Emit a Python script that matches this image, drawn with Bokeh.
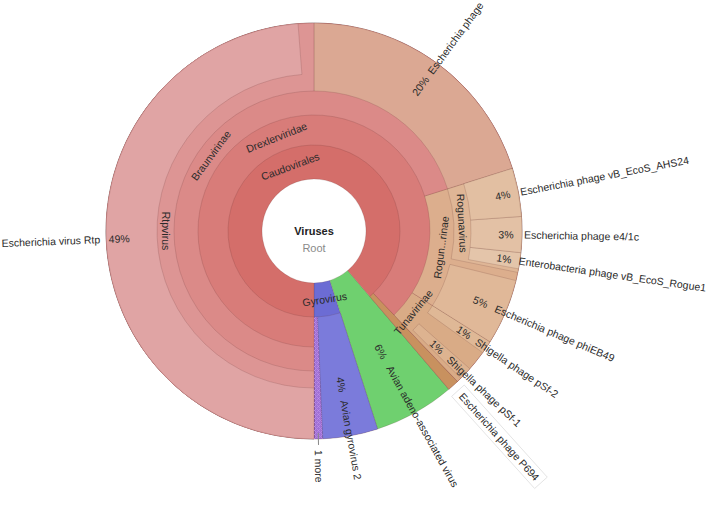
import math
from bokeh.plotting import figure
from bokeh.models import ColumnDataSource, Range1d
from bokeh.core.properties import value
from bokeh.embed import file_html
from bokeh.resources import INLINE

# ---------------- data ----------------
# segments counter-clockwise from 6 o'clock; path = lineage below "Viruses"
seg_path = [
    "Gyrovirus|1 more",
    "Gyrovirus|Avian gyrovirus 2",
    "Avian adeno-associated virus",
    "Caudovirales|Escherichia phage P694",
    "Caudovirales|Drexlerviridae|Tunavirinae",
    "Caudovirales|Drexlerviridae|Tunavirinae|Shigella phage pSf-1",
    "Caudovirales|Drexlerviridae|Tunavirinae",
    "Caudovirales|Drexlerviridae|Tunavirinae|Shigella phage pSf-2",
    "Caudovirales|Drexlerviridae|Rogunavirinae|Escherichia phage phiEB49",
    "Caudovirales|Drexlerviridae|Rogunavirinae",
    "Caudovirales|Drexlerviridae|Rogunavirinae|Rogunavirus",
    "Caudovirales|Drexlerviridae|Rogunavirinae|Rogunavirus|Enterobacteria phage vB_EcoS_Rogue1",
    "Caudovirales|Drexlerviridae|Rogunavirinae|Rogunavirus|Escherichia phage e4/1c",
    "Caudovirales|Drexlerviridae|Rogunavirinae|Rogunavirus|Escherichia phage vB_EcoS_AHS24",
    "Caudovirales|Drexlerviridae|Braunvirinae|Escherichia phage",
    "Caudovirales|Drexlerviridae|Braunvirinae|Rtpvirus",
    "Caudovirales|Drexlerviridae|Braunvirinae|Rtpvirus|Escherichia virus Rtp",
]
seg_value = [0.67, 4.28, 6.28, 0.89, 0.36, 1.0, 1.58, 1.0, 5.11, 0.64, 0.28,
             1.25, 2.78, 3.75, 20.14, 1.22, 48.78]

root_name = "Viruses"
root_rank = "Root"
short_names = {"Rogunavirinae": "Rogun...rinae"}

# ---------------- style ----------------
ring_r = [52, 86, 116, 140, 157, 208]
colors = {
    "Gyrovirus": "#6c6cd4",
    "1 more": "#a070d6",
    "Avian gyrovirus 2": "#7b7bdb",
    "Avian adeno-associated virus": "#6fd06f",
    "Caudovirales": "#d46e6a",
    "Escherichia phage P694": "#c8915f",
    "Drexlerviridae": "#d87c79",
    "Tunavirinae": "#d9ab86",
    "Shigella phage pSf-1": "#ddb390",
    "Shigella phage pSf-2": "#dfb896",
    "Rogunavirinae": "#dcae8d",
    "Escherichia phage phiEB49": "#e0b898",
    "Rogunavirus": "#dfb696",
    "Enterobacteria phage vB_EcoS_Rogue1": "#e4c5aa",
    "Escherichia phage e4/1c": "#e3c1a5",
    "Escherichia phage vB_EcoS_AHS24": "#e2bfa2",
    "Braunvirinae": "#db8a88",
    "Escherichia phage": "#dba893",
    "Rtpvirus": "#dd9594",
    "Escherichia virus Rtp": "#e0a4a4",
}
# (percent radius, name radius) of leaf labels
leaf_lab_r = {
    "1 more": (None, 219),
    "Avian gyrovirus 2": (156, 172),
    "Avian adeno-associated virus": (138, 155),
    "Escherichia phage P694": (None, 220),
    "Shigella phage pSf-1": (169, 185),
    "Shigella phage pSf-2": (181, 196),
    "Escherichia phage phiEB49": (181, 197),
    "Enterobacteria phage vB_EcoS_Rogue1": (192, 207),
    "Escherichia phage e4/1c": (192, 210),
    "Escherichia phage vB_EcoS_AHS24": (192, 210),
    "Escherichia phage": (180, 196),
    "Escherichia virus Rtp": (195, 214),
}
FONT = value("Liberation Sans")
FS = "10.5px"
TXT = "#2a2a2a"
W, H = 709, 490

# ---------------- layout computation ----------------
total = sum(seg_value)
spans = {}      # node -> [start, end, depth]
order = []
children = {}
cum = 0.0
for path, v in zip(seg_path, seg_value):
    a0 = -90 + 360 * cum / total
    cum += v
    a1 = -90 + 360 * cum / total
    parts = path.split("|")
    for d, name in enumerate(parts, start=1):
        if name not in spans:
            spans[name] = [a0, a1, d]
            order.append(name)
        else:
            spans[name][0] = min(spans[name][0], a0)
            spans[name][1] = max(spans[name][1], a1)
        if d > 1:
            children.setdefault(parts[d - 2], set()).add(name)
node_val = {}
for path, v in zip(seg_path, seg_value):
    for name in path.split("|"):
        node_val[name] = node_val.get(name, 0) + v

p = figure(width=W, height=H, x_range=Range1d(-313.5, W - 313.5),
           y_range=Range1d(-259.5, 230.5), output_backend="svg",
           toolbar_location=None, min_border=0, x_axis_type=None, y_axis_type=None)
p.grid.visible = False
p.outline_line_color = None
p.background_fill_color = "white"

names_by_depth = sorted(order, key=lambda n: spans[n][2])
w = dict(inner=[], outer=[], start=[], end=[], color=[])
for n in names_by_depth:
    a0, a1, d = spans[n]
    w["inner"].append(ring_r[d - 1])
    w["outer"].append(ring_r[-1])
    w["start"].append(math.radians(a0))
    w["end"].append(math.radians(a1))
    w["color"].append(colors[n])
p.annular_wedge(x=0, y=0, inner_radius="inner", outer_radius="outer",
                start_angle="start", end_angle="end", direction="anticlock",
                fill_color="color", line_color="#5a3030", line_alpha=0.22,
                line_width=0.8, source=ColumnDataSource(w))

# hatched "1 more"
a0, a1, d = spans["1 more"]
p.annular_wedge(x=0, y=0, inner_radius=ring_r[d - 1], outer_radius=ring_r[-1],
                start_angle=math.radians(a0), end_angle=math.radians(a1),
                direction="anticlock", fill_alpha=0, line_color=None,
                hatch_pattern="diagonal_cross", hatch_color="#c9a0ee",
                hatch_alpha=0.7, hatch_scale=4, hatch_weight=0.7)

# inner (tangential) labels
lab = dict(x=[], y=[], text=[], angle=[])
for n in order:
    if n not in children:
        continue
    a0, a1, d = spans[n]
    mid = (a0 + a1) / 2
    r = (ring_r[d - 1] + ring_r[d]) / 2
    m = ((mid + 180) % 360) - 180
    ang = m - 90 if m > 0 else m + 90
    lab["x"].append(r * math.cos(math.radians(mid)))
    lab["y"].append(r * math.sin(math.radians(mid)))
    lab["text"].append(short_names.get(n, n))
    lab["angle"].append(math.radians(ang))
p.text(x="x", y="y", text="text", angle="angle", source=ColumnDataSource(lab),
       text_align="center", text_baseline="middle", text_font=FONT,
       text_font_size=FS, text_color=TXT)

# leaf (radial) labels
left_src = dict(x=[], y=[], text=[], angle=[])
right_src = dict(x=[], y=[], text=[], angle=[])
pct_src = dict(x=[], y=[], text=[], angle=[])
for n in order:
    if n in children:
        continue
    a0, a1, d = spans[n]
    mid = (a0 + a1) / 2
    m = ((mid + 180) % 360) - 180
    rp, rn = leaf_lab_r[n]
    c, s = math.cos(math.radians(mid)), math.sin(math.radians(mid))
    if -90 <= m <= 90:
        tgt, ang = left_src, m
    else:
        tgt, ang = right_src, m - 180
    if n == "Escherichia phage P694":
        p.rect(x=(rn + 57) * c, y=(rn + 57) * s, width=124, height=17,
               angle=math.radians(ang), fill_color="white",
               line_color="#e4e4e4", line_width=1)
    if n == "1 more":
        p.segment(x0=202 * c, y0=202 * s, x1=214 * c, y1=214 * s,
                  line_color="#888888", line_width=1)
    tgt["x"].append(rn * c)
    tgt["y"].append(rn * s)
    tgt["text"].append(n)
    tgt["angle"].append(math.radians(ang))
    if rp is not None:
        pct_src["x"].append(rp * c)
        pct_src["y"].append(rp * s)
        pct_src["text"].append(f"{round(node_val[n] / total * 100)}%")
        pct_src["angle"].append(math.radians(ang))

for src, al in ((left_src, "left"), (right_src, "right"), (pct_src, "center")):
    p.text(x="x", y="y", text="text", angle="angle", source=ColumnDataSource(src),
           text_align=al, text_baseline="middle", text_font=FONT,
           text_font_size=FS, text_color=TXT)

# centre
p.text(x=[0], y=[0], text=[root_name], text_align="center", text_baseline="middle",
       text_font=FONT, text_font_size="11px", text_font_style="bold", text_color="#222222")
p.text(x=[0], y=[-17], text=[root_rank], text_align="center", text_baseline="middle",
       text_font=FONT, text_font_size="11px", text_color="#8a8a8a")

open("out.html", "w").write(file_html(p, INLINE))
